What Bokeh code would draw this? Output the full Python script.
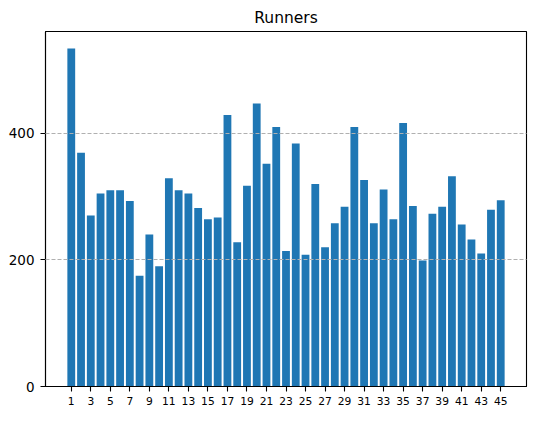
from bokeh.plotting import figure
from bokeh.models import Range1d, FixedTicker
from bokeh.embed import file_html
from bokeh.resources import INLINE

runners = list(range(1, 46))
counts = [534, 369, 270, 305, 310, 310, 293, 175, 240, 190,
          329, 310, 305, 282, 264, 267, 429, 228, 317, 447,
          352, 410, 214, 384, 208, 320, 220, 258, 284, 410,
          326, 258, 311, 264, 416, 285, 199, 273, 284, 332,
          256, 232, 210, 279, 294]
x_ticks = list(range(1, 46, 2))
y_ticks = [0, 200, 400]

p = figure(width=535, height=415, output_backend="svg", toolbar_location=None,
           x_range=Range1d(-1.64, 47.64), y_range=Range1d(0, max(counts) * 1.05),
           min_border_left=45, min_border_right=9, min_border_top=31, min_border_bottom=29,
           title="Runners")
p.title.align = "center"
p.title.text_font = "DejaVu Sans"
p.title.text_font_size = "15.5px"
p.title.text_font_style = "normal"
p.title.text_color = "black"

p.vbar(x=runners, top=counts, width=0.8, fill_color="#1f77b4", line_color=None)

p.outline_line_color = "black"
p.outline_line_width = 1.1
p.outline_line_alpha = 1

p.xgrid.visible = False
p.ygrid.grid_line_color = "#b0b0b0"
p.ygrid.grid_line_dash = "4 2"
p.ygrid.grid_line_width = 1
p.ygrid.level = "guide"

p.xaxis.ticker = FixedTicker(ticks=x_ticks)
p.yaxis.ticker = FixedTicker(ticks=y_ticks)
for ax in (p.xaxis, p.yaxis):
    ax.axis_line_color = "black"
    ax.axis_line_width = 1.1
    ax.major_tick_line_color = "black"
    ax.major_tick_line_width = 1.1
    ax.major_tick_out = 5
    ax.major_tick_in = 0
    ax.minor_tick_line_color = None
    ax.major_label_text_font = "DejaVu Sans"
    ax.major_label_text_color = "black"
    ax.major_label_standoff = 5
p.yaxis.major_label_standoff = 6
p.xaxis.major_label_text_font_size = "10.7px"
p.yaxis.major_label_text_font_size = "13.5px"

open("out.html", "w").write(file_html(p, INLINE))
